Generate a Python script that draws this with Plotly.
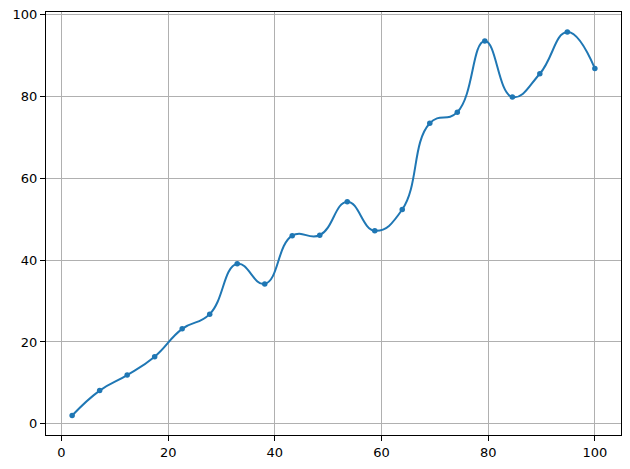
import numpy as np
import plotly.graph_objects as go

x_values = [2.0, 7.16, 12.32, 17.47, 22.63, 27.79, 32.95, 38.11, 43.26, 48.42,
            53.58, 58.74, 63.89, 69.05, 74.21, 79.37, 84.53, 89.68, 94.84, 100.0]
y_values = [2.0, 8.1, 11.9, 16.4, 23.2, 26.8, 39.1, 34.2, 46.0, 46.1,
            54.3, 47.2, 52.4, 73.5, 76.2, 93.6, 79.9, 85.6, 95.8, 86.9]
x_ticks = [0, 20, 40, 60, 80, 100]
y_ticks = [0, 20, 40, 60, 80, 100]

fig = go.Figure()
fig.add_trace(go.Scatter(
    x=x_values, y=y_values, mode="lines+markers",
    line=dict(color="#1f77b4", width=2, shape="spline", smoothing=1.3),
    marker=dict(color="#1f77b4", size=5.5),
    showlegend=False, cliponaxis=False,
))

axis_common = dict(
    showgrid=True, gridcolor="#b0b0b0", gridwidth=1,
    showline=True, linecolor="black", linewidth=1, mirror=True,
    ticks="outside", ticklen=5, tickwidth=1, tickcolor="black",
    zeroline=False, automargin=False,
    tickfont=dict(family="DejaVu Sans", size=13, color="black"),
)
fig.update_xaxes(range=[-2.9, 104.9], tickvals=x_ticks, **axis_common)
fig.update_yaxes(range=[-2.76, 100.7], tickvals=y_ticks, **axis_common)

fig.update_layout(
    width=630, height=469,
    margin=dict(l=46, r=9, t=12, b=34, autoexpand=False),
    paper_bgcolor="white", plot_bgcolor="white",
)
fig.write_html("out.html",
               config={"displayModeBar": False},
               post_script="document.body.style.margin='0';document.body.style.overflow='hidden';")
